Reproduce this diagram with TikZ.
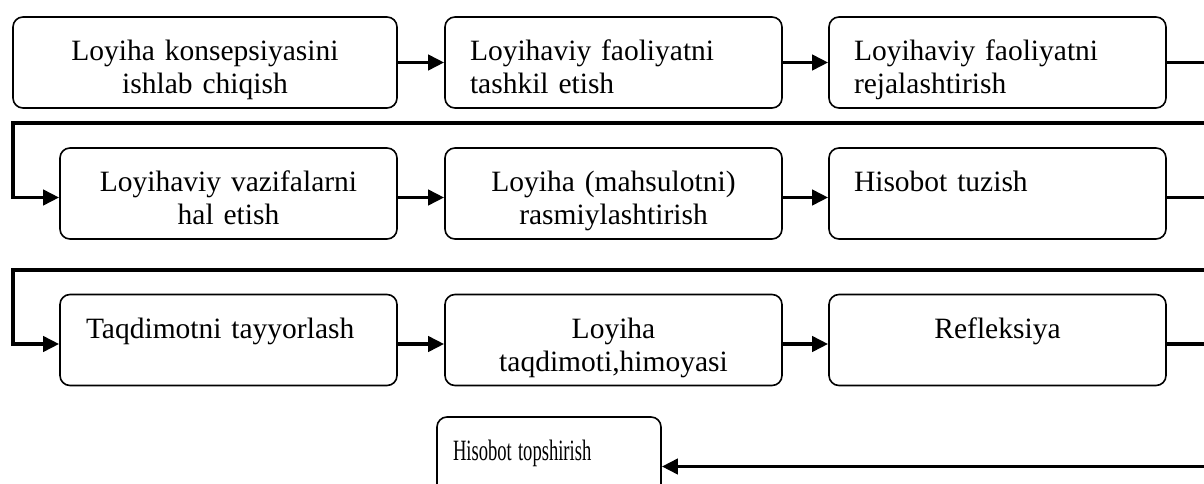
\documentclass[tikz,border=0pt]{standalone}
\usepackage{fontspec}
\usepackage{graphicx}
\setmainfont{Liberation Serif}
\usetikzlibrary{arrows.meta}
\tikzset{
  box/.style={draw, line width=1.6pt, rounded corners=10pt, minimum height=91pt,
    inner ysep=0pt, text height=18pt, text depth=22pt,
    font=\fontsize{29.5pt}{33pt}\selectfont},
  cbox/.style={box, align=center, text width=317pt, inner xsep=10pt},
  lbox/.style={box, align=left, text width=287pt, inner xsep=25pt},
  conn/.style={line width=3.8pt, -{Triangle[length=16pt,width=15pt]}}
}
\begin{document}
\begin{tikzpicture}[x=1pt,y=-1pt]
\useasboundingbox (0,0) rectangle (1204,484);
% row 1
\node[box, align=center, text width=364pt, inner xsep=10pt] (b1) at (205,62.5) {Loyiha konsepsiyasini\\ishlab chiqish};
\node[lbox] (b2) at (613.5,62.5) {Loyihaviy faoliyatni\\tashkil etish};
\node[lbox] (b3) at (997.5,62.5) {Loyihaviy faoliyatni\\rejalashtirish};
% row 2
\node[cbox] (b4) at (228.5,193.5) {Loyihaviy vazifalarni\\hal etish};
\node[cbox] (b5) at (613.5,193.5) {Loyiha (mahsulotni)\\rasmiylashtirish};
\node[lbox] (b6) at (997.5,193.5) {Hisobot tuzish};
% row 3
\node[lbox, inner xsep=26pt, text width=285pt] (b7) at (228.5,340) {Taqdimotni tayyorlash};
\node[cbox] (b8) at (613.5,340) {Loyiha\\taqdimoti,himoyasi};
\node[cbox] (b9) at (997.5,340) {Refleksiya};
% row 4
\node[box, align=left, text width=192pt, inner xsep=16pt] (b10) at (549,462.5) {\scalebox{0.63}[1]{Hisobot topshirish}};
% coordinates for return paths
\coordinate (r1) at (1212,123);
\coordinate (l1) at (13,123);
\coordinate (r2) at (1212,270);
\coordinate (l2) at (13,270);
\coordinate (r3) at (1212,466.5);
% connectors
\draw[conn] (b1.east) -- (b2.west);
\draw[conn] (b2.east) -- (b3.west);
\draw[conn] (b3.east) -| (r1) -- (l1) |- ([yshift=-4pt]b4.west);
\draw[conn] ([yshift=-4pt]b4.east) -- ([yshift=-4pt]b5.west);
\draw[conn] ([yshift=-4pt]b5.east) -- ([yshift=-4pt]b6.west);
\draw[conn] ([yshift=-4pt]b6.east) -| (r2) -- (l2) |- ([yshift=-4pt]b7.west);
\draw[conn] ([yshift=-4pt]b7.east) -- ([yshift=-4pt]b8.west);
\draw[conn] ([yshift=-4pt]b8.east) -- ([yshift=-4pt]b9.west);
\draw[conn] ([yshift=-4pt]b9.east) -| (r3) -- ([yshift=-4pt]b10.east);
\end{tikzpicture}
\end{document}
